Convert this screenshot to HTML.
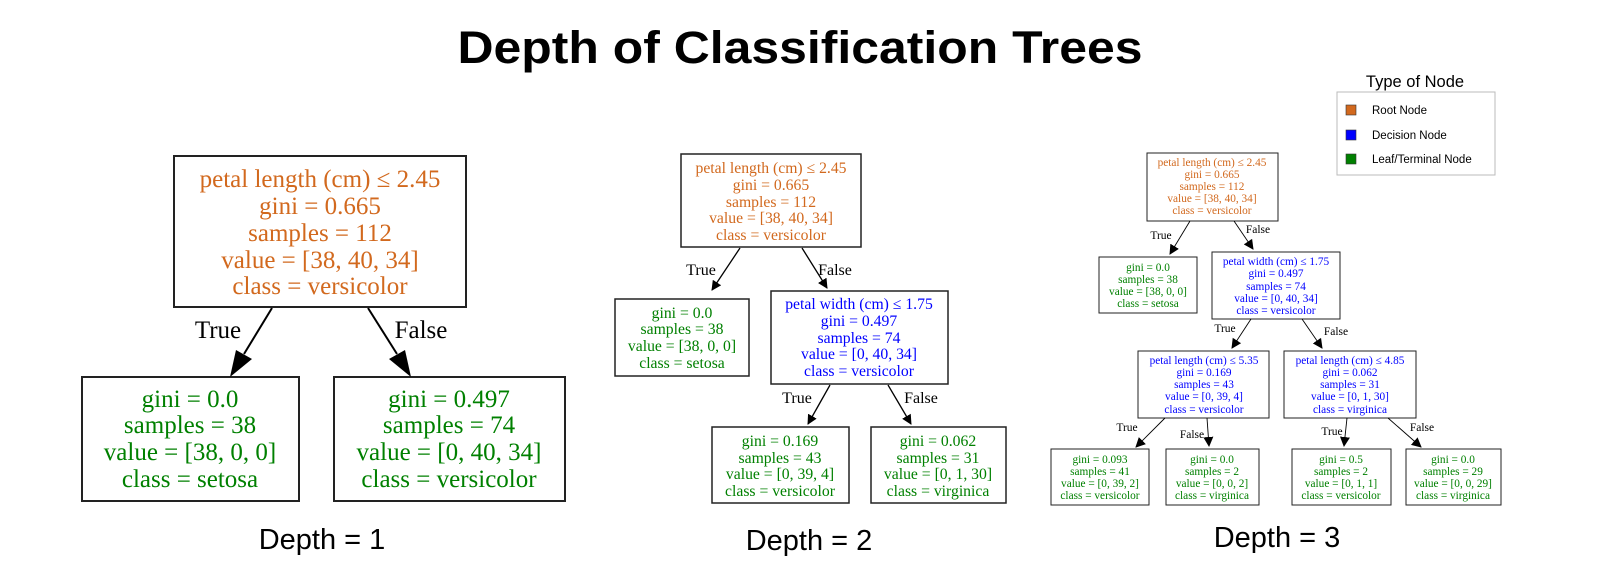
<!DOCTYPE html>
<html><head><meta charset="utf-8"><style>
html,body{margin:0;padding:0;background:#fff;}
svg{display:block;}
.o{fill:#d2691e;} .b{fill:#0000ff;} .g{fill:#008000;}
.t1{font-family:"Liberation Serif",serif;font-size:25px;text-anchor:middle;}
.t2{font-family:"Liberation Serif",serif;font-size:15.7px;text-anchor:middle;}
.t3{font-family:"Liberation Serif",serif;font-size:11.3px;text-anchor:middle;}
.box{fill:#fff;stroke:#222;}
.lbl{font-family:"Liberation Sans",sans-serif;font-size:29px;text-anchor:middle;fill:#000;}
.e{font-family:"Liberation Serif",serif;fill:#000;text-anchor:middle;}
</style></head><body>
<svg width="1601" height="575" viewBox="0 0 1601 575" xmlns="http://www.w3.org/2000/svg">
<defs>
<marker id="ah1" markerWidth="10" markerHeight="10" refX="9" refY="5" orient="auto" markerUnits="userSpaceOnUse" viewBox="0 0 10 10"><path d="M0,0 L10,5 L0,10 z" fill="#000"/></marker>
</defs>
<text x="800" y="63" font-family="Liberation Sans, sans-serif" font-weight="bold" font-size="45" text-anchor="middle" textLength="685" lengthAdjust="spacingAndGlyphs">Depth of Classification Trees</text>

<!-- Depth 1 -->
<g>
<rect class="box" x="174" y="156" width="292" height="151" stroke-width="2"/>
<g class="t1 o"><text x="320" y="187">petal length (cm) ≤ 2.45</text><text x="320" y="214">gini = 0.665</text><text x="320" y="241">samples = 112</text><text x="320" y="268">value = [38, 40, 34]</text><text x="320" y="294">class = versicolor</text></g>
<rect class="box" x="82" y="377" width="217" height="124" stroke-width="2"/>
<g class="t1 g"><text x="190" y="407">gini = 0.0</text><text x="190" y="433">samples = 38</text><text x="190" y="460">value = [38, 0, 0]</text><text x="190" y="487">class = setosa</text></g>
<rect class="box" x="334" y="377" width="231" height="124" stroke-width="2"/>
<g class="t1 g"><text x="449" y="407">gini = 0.497</text><text x="449" y="433">samples = 74</text><text x="449" y="460">value = [0, 40, 34]</text><text x="449" y="487">class = versicolor</text></g>
<line x1="272" y1="308" x2="244" y2="354" stroke="#000" stroke-width="2"/>
<polygon points="230,377 236,350 252,359" fill="#000"/>
<line x1="368" y1="308" x2="397" y2="354" stroke="#000" stroke-width="2"/>
<polygon points="411,377 389,359 405,350" fill="#000"/>
<text class="e" x="218" y="338" font-size="25">True</text>
<text class="e" x="421" y="338" font-size="25">False</text>
<text class="lbl" x="322" y="549">Depth = 1</text>
</g>

<!-- Depth 2 -->
<g>
<rect class="box" x="681" y="154" width="180" height="93" stroke-width="1.5"/>
<g class="t2 o"><text x="771" y="173">petal length (cm) ≤ 2.45</text><text x="771" y="190">gini = 0.665</text><text x="771" y="207">samples = 112</text><text x="771" y="223">value = [38, 40, 34]</text><text x="771" y="240">class = versicolor</text></g>
<rect class="box" x="615" y="299" width="134" height="77" stroke-width="1.5"/>
<g class="t2 g"><text x="682" y="318">gini = 0.0</text><text x="682" y="334">samples = 38</text><text x="682" y="351">value = [38, 0, 0]</text><text x="682" y="368">class = setosa</text></g>
<rect class="box" x="771" y="291" width="177" height="93" stroke-width="1.5"/>
<g class="t2 b"><text x="859" y="309">petal width (cm) ≤ 1.75</text><text x="859" y="326">gini = 0.497</text><text x="859" y="343">samples = 74</text><text x="859" y="359">value = [0, 40, 34]</text><text x="859" y="376">class = versicolor</text></g>
<rect class="box" x="712" y="427" width="137" height="76" stroke-width="1.5"/>
<g class="t2 g"><text x="780" y="446">gini = 0.169</text><text x="780" y="463">samples = 43</text><text x="780" y="479">value = [0, 39, 4]</text><text x="780" y="496">class = versicolor</text></g>
<rect class="box" x="871" y="427" width="135" height="76" stroke-width="1.5"/>
<g class="t2 g"><text x="938" y="446">gini = 0.062</text><text x="938" y="463">samples = 31</text><text x="938" y="479">value = [0, 1, 30]</text><text x="938" y="496">class = virginica</text></g>
<g stroke="#000" stroke-width="1.3">
<line x1="740" y1="248" x2="712" y2="290" marker-end="url(#ah1)"/>
<line x1="802" y1="248" x2="827" y2="288" marker-end="url(#ah1)"/>
<line x1="830" y1="385" x2="808" y2="424" marker-end="url(#ah1)"/>
<line x1="888" y1="385" x2="911" y2="424" marker-end="url(#ah1)"/>
</g>
<text class="e" x="701" y="275" font-size="16">True</text>
<text class="e" x="835" y="275" font-size="16">False</text>
<text class="e" x="797" y="403" font-size="16">True</text>
<text class="e" x="921" y="403" font-size="16">False</text>
<text class="lbl" x="809" y="550">Depth = 2</text>
</g>

<!-- Depth 3 -->
<g>
<rect class="box" x="1147" y="153" width="131" height="68" stroke-width="1"/>
<g class="t3 o"><text x="1212" y="166">petal length (cm) ≤ 2.45</text><text x="1212" y="178">gini = 0.665</text><text x="1212" y="190">samples = 112</text><text x="1212" y="202">value = [38, 40, 34]</text><text x="1212" y="214">class = versicolor</text></g>
<rect class="box" x="1099" y="257" width="98" height="56" stroke-width="1"/>
<g class="t3 g"><text x="1148" y="271">gini = 0.0</text><text x="1148" y="283">samples = 38</text><text x="1148" y="295">value = [38, 0, 0]</text><text x="1148" y="307">class = setosa</text></g>
<rect class="box" x="1212" y="252" width="128" height="67" stroke-width="1"/>
<g class="t3 b"><text x="1276" y="265">petal width (cm) ≤ 1.75</text><text x="1276" y="277">gini = 0.497</text><text x="1276" y="290">samples = 74</text><text x="1276" y="302">value = [0, 40, 34]</text><text x="1276" y="314">class = versicolor</text></g>
<rect class="box" x="1138" y="351" width="131" height="67" stroke-width="1"/>
<g class="t3 b"><text x="1204" y="364">petal length (cm) ≤ 5.35</text><text x="1204" y="376">gini = 0.169</text><text x="1204" y="388">samples = 43</text><text x="1204" y="400">value = [0, 39, 4]</text><text x="1204" y="413">class = versicolor</text></g>
<rect class="box" x="1284" y="351" width="132" height="67" stroke-width="1"/>
<g class="t3 b"><text x="1350" y="364">petal length (cm) ≤ 4.85</text><text x="1350" y="376">gini = 0.062</text><text x="1350" y="388">samples = 31</text><text x="1350" y="400">value = [0, 1, 30]</text><text x="1350" y="413">class = virginica</text></g>
<rect class="box" x="1051" y="449" width="98" height="56" stroke-width="1"/>
<g class="t3 g"><text x="1100" y="463">gini = 0.093</text><text x="1100" y="475">samples = 41</text><text x="1100" y="487">value = [0, 39, 2]</text><text x="1100" y="499">class = versicolor</text></g>
<rect class="box" x="1166" y="449" width="93" height="56" stroke-width="1"/>
<g class="t3 g"><text x="1212" y="463">gini = 0.0</text><text x="1212" y="475">samples = 2</text><text x="1212" y="487">value = [0, 0, 2]</text><text x="1212" y="499">class = virginica</text></g>
<rect class="box" x="1292" y="449" width="99" height="56" stroke-width="1"/>
<g class="t3 g"><text x="1341" y="463">gini = 0.5</text><text x="1341" y="475">samples = 2</text><text x="1341" y="487">value = [0, 1, 1]</text><text x="1341" y="499">class = versicolor</text></g>
<rect class="box" x="1406" y="449" width="95" height="56" stroke-width="1"/>
<g class="t3 g"><text x="1453" y="463">gini = 0.0</text><text x="1453" y="475">samples = 29</text><text x="1453" y="487">value = [0, 0, 29]</text><text x="1453" y="499">class = virginica</text></g>
<g stroke="#000" stroke-width="0.9">
<line x1="1190" y1="221" x2="1170" y2="254" marker-end="url(#ah1)"/>
<line x1="1234" y1="221" x2="1253" y2="249" marker-end="url(#ah1)"/>
<line x1="1251" y1="319" x2="1232" y2="348" marker-end="url(#ah1)"/>
<line x1="1302" y1="319" x2="1322" y2="348" marker-end="url(#ah1)"/>
<line x1="1165" y1="418" x2="1136" y2="447" marker-end="url(#ah1)"/>
<line x1="1207" y1="418" x2="1209" y2="446" marker-end="url(#ah1)"/>
<line x1="1347" y1="418" x2="1344" y2="446" marker-end="url(#ah1)"/>
<line x1="1388" y1="418" x2="1421" y2="447" marker-end="url(#ah1)"/>
</g>
<g class="e" font-size="11.5">
<text x="1161" y="239">True</text><text x="1258" y="233">False</text>
<text x="1225" y="332">True</text><text x="1336" y="335">False</text>
<text x="1127" y="431">True</text><text x="1192" y="438">False</text>
<text x="1332" y="435">True</text><text x="1422" y="431">False</text>
</g>
<text class="lbl" x="1277" y="547">Depth = 3</text>
</g>

<!-- Legend -->
<g>
<text x="1415" y="87" font-family="Liberation Sans, sans-serif" font-size="16.5" text-anchor="middle">Type of Node</text>
<rect x="1337" y="92" width="158" height="83" fill="#fff" stroke="#bbb" stroke-width="1"/>
<g><rect x="1346" y="105" width="10" height="10" fill="#d2691e" stroke="#333" stroke-width="0.6"/><text x="1372" y="114" font-family="Liberation Sans, sans-serif" font-size="11.5">Root Node</text></g>
<g><rect x="1346" y="130" width="10" height="10" fill="#0000ff" stroke="#333" stroke-width="0.6"/><text x="1372" y="139" font-family="Liberation Sans, sans-serif" font-size="11.5">Decision Node</text></g>
<g><rect x="1346" y="154" width="10" height="10" fill="#008000" stroke="#333" stroke-width="0.6"/><text x="1372" y="163" font-family="Liberation Sans, sans-serif" font-size="11.5">Leaf/Terminal Node</text></g>
</g>
</svg>
</body></html>
